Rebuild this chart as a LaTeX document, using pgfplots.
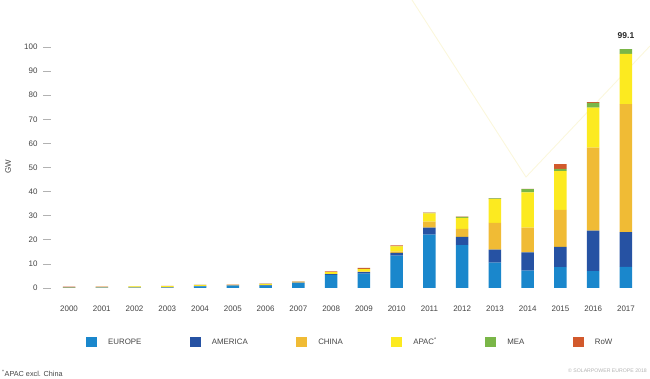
\documentclass[border=0pt]{standalone}
\usepackage{pgfplots}
\pgfplotsset{compat=1.18}
\usepackage{fontspec}
\setmainfont{Liberation Sans}
\definecolor{ceu}{HTML}{1A87CC}
\definecolor{cam}{HTML}{2652A3}
\definecolor{ccn}{HTML}{F0BB35}
\definecolor{cap}{HTML}{FCEA20}
\definecolor{cme}{HTML}{7AB648}
\definecolor{crw}{HTML}{D2592C}
\definecolor{txt}{HTML}{444444}
\definecolor{deco}{HTML}{FBF7DC}
\pgfplotstableread{
x  eu    am    cn    ap    me    rw
0  0.10  0.05  0.05  0.20  0.00  0.12
1  0.12  0.05  0.05  0.22  0.00  0.12
2  0.15  0.05  0.10  0.35  0.01  0.05
3  0.20  0.07  0.10  0.40  0.01  0.05
4  0.70  0.10  0.05  0.35  0.05  0.05
5  0.95  0.10  0.04  0.25  0.00  0.06
6  1.00  0.15  0.05  0.45  0.02  0.10
7  2.00  0.25  0.05  0.20  0.02  0.10
8  5.40  0.40  0.05  0.70  0.05  0.30
9  6.00  0.60  0.20  1.00  0.10  0.40
10 13.40 1.20  0.50  2.20  0.10  0.30
11 22.10 2.90  2.50  3.50  0.20  0.10
12 17.80 3.40  3.30  4.60  0.40  0.10
13 10.50 5.40  11.10 9.90  0.30  0.10
14 7.20  7.60  10.20 14.70 1.30  0.10
15 8.70  8.40  15.30 16.10 0.90  2.00
16 7.05  16.75 34.40 16.60 2.00  0.30
17 8.80  14.40 53.10 20.80 2.00  0.00
}\data
\pgfplotsset{sq/.style={legend image code/.code={\fill[##1,draw=none] (0bp,-2.2bp) rectangle (11bp,7.8bp);}}}
\begin{document}
\begin{tikzpicture}
\path[use as bounding box] (0,0) rectangle (650bp,379bp);
\draw[deco, line width=0.9bp] (412bp,379bp) -- (526bp,202bp) -- (650bp,333bp);
\begin{axis}[
  at={(51bp,91bp)}, anchor=south west,
  scale only axis, width=593bp, height=241bp,
  ybar stacked, bar width=12.5bp,
  xmin=-0.55, xmax=17.55, ymin=0, ymax=100,
  axis y line*=left, axis x line*=bottom,
  axis line style={draw=none},
  xtick=data,
  xticklabels={2000,2001,2002,2003,2004,2005,2006,2007,2008,2009,2010,2011,2012,2013,2014,2015,2016,2017},
  xtick style={draw=none},
  ytick={0,10,...,100},
  tick align=outside,
  ytick style={draw=gray!60, line width=0.6bp},
  major tick length=8bp,
  /pgf/number format/assume math mode=true,
  ticklabel style={font=\fontsize{8}{9}\selectfont, text=txt},
  xticklabel style={yshift=-6bp},
  yticklabel style={xshift=-2bp},
  ylabel={GW},
  every axis y label/.style={at={(rel axis cs:-0.0725,0.502)}, rotate=90, anchor=center, font=\fontsize{8}{9}\selectfont, text=txt},
  clip=false,
  legend columns=6,
  legend style={at={(0.059,-0.224)}, anchor=west, draw=none, fill=none, inner sep=0pt,
    font=\fontsize{7.9}{9}\selectfont, text=txt,
    nodes={inner sep=0pt, anchor=base west},
    /tikz/every odd column/.append style={column sep=11bp},
    /tikz/every even column/.append style={column sep=48.5bp}},
]
\addplot[fill=ceu, draw=none, sq] table[x=x,y=eu]{\data};
\addplot[fill=cam, draw=none, sq] table[x=x,y=am]{\data};
\addplot[fill=ccn, draw=none, sq] table[x=x,y=cn]{\data};
\addplot[fill=cap, draw=none, sq] table[x=x,y=ap]{\data};
\addplot[fill=cme, draw=none, sq] table[x=x,y=me]{\data};
\addplot[fill=crw, draw=none, sq] table[x=x,y=rw]{\data};
\legend{EUROPE,AMERICA,CHINA,APAC\textsuperscript{*},MEA,RoW}
\node[anchor=south, font=\bfseries\fontsize{8.5}{10}\selectfont, text=black!85, yshift=7bp] at (axis cs:17,99.1) {99.1};
\end{axis}
\node[anchor=west, font=\fontsize{7.3}{8}\selectfont, text=txt, inner sep=0pt] at (2bp,6bp) {\textsuperscript{*}APAC excl. China};
\node[anchor=east, font=\fontsize{5.2}{6}\selectfont, text=black!30, inner sep=0pt] at (647bp,8bp) {© SOLARPOWER EUROPE 2018};
\end{tikzpicture}
\end{document}
